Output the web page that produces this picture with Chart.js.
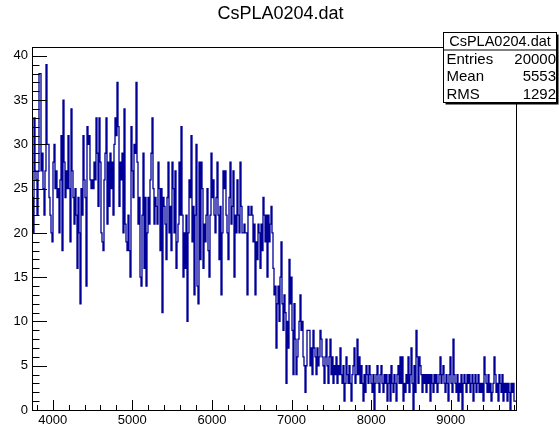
<!DOCTYPE html>
<html>
<head>
<meta charset="utf-8">
<script src="https://cdn.jsdelivr.net/npm/chart.js@4.4.1/dist/chart.umd.min.js"></script>
<style>
  html, body { margin: 0; padding: 0; background: #fff; }
  canvas { display: block; }
</style>
</head>
<body>
<canvas id="chart-hist" width="559" height="430"></canvas>
<script>
// histogram CsPLA0204.dat (one bin per pixel column)
const histName = 'CsPLA0204.dat';
const binLow = 3740;
const binWidth = 12.56;
const counts = [
  // 3740 - 4000
  27, 24, 20, 33, 27, 26, 22, 27, 38, 38, 27, 29, 25, 22, 27, 39, 30, 30, 24, 22,
  // 4000 - 4250
  20, 19, 28, 30, 25, 27, 24, 25, 20, 26, 31, 18, 35, 28, 24, 27, 25, 31, 25, 19,
  34, 27, 24, 21, 25, 22, 16, 24, 20, 12, 25, 22, 31, 26, 24, 14, 32, 30, 31, 26,
  // 4500
  25, 26, 25, 28, 26, 33, 29, 23, 33, 28, 20, 19, 18, 26, 29, 33, 21, 28, 23, 29,
  25, 28, 22, 30, 33, 31, 37, 32, 23, 28, 26, 29, 20, 34, 21, 19, 18, 22, 18, 15,
  // 5000
  32, 27, 24, 30, 29, 37, 28, 21, 24, 15, 14, 22, 29, 16, 24, 14, 20, 24, 21, 26,
  29, 33, 25, 21, 24, 23, 21, 28, 25, 18, 25, 11, 24, 23, 21, 17, 24, 28, 20, 23,
  // 5500
  18, 28, 25, 20, 27, 16, 19, 21, 28, 22, 32, 22, 15, 20, 16, 22, 10, 20, 26, 24,
  31, 19, 23, 13, 22, 30, 14, 12, 28, 17, 28, 25, 16, 21, 19, 22, 25, 18, 15, 22,
  // 6000
  29, 24, 26, 22, 20, 24, 28, 22, 17, 23, 13, 20, 27, 25, 27, 22, 20, 17, 24, 28,
  21, 23, 27, 15, 22, 20, 26, 22, 20, 28, 23, 20, 20, 21, 20, 20, 13, 23, 22, 22,
  // 6500
  23, 22, 19, 21, 13, 19, 17, 21, 20, 16, 21, 18, 24, 22, 19, 22, 15, 22, 19, 21,
  23, 20, 16, 13, 14, 7, 12, 14, 10, 15, 19, 12, 9, 13, 11, 3, 10, 7, 17, 12,
  // 7000
  15, 9, 4, 12, 8, 4, 6, 8, 10, 13, 9, 10, 6, 5, 2, 5, 9, 9, 9, 5,
  7, 4, 9, 7, 6, 4, 7, 5, 6, 9, 8, 6, 5, 3, 6, 8, 5, 3, 6, 8,
  // 7500
  4, 6, 3, 5, 4, 6, 3, 5, 4, 7, 4, 3, 5, 1, 3, 6, 4, 3, 5, 3,
  1, 4, 5, 7, 3, 4, 8, 4, 6, 3, 5, 3, 1, 4, 2, 5, 4, 3, 5, 4,
  // 8000
  3, 2, 4, 0, 3, 4, 5, 3, 2, 4, 5, 3, 2, 4, 3, 4, 1, 3, 4, 1,
  5, 3, 2, 4, 3, 1, 4, 5, 3, 6, 3, 6, 1, 3, 2, 4, 3, 6, 2, 4,
  // 8500
  7, 3, 0, 5, 2, 9, 6, 3, 6, 5, 4, 2, 4, 3, 4, 2, 4, 3, 4, 1,
  4, 3, 2, 4, 3, 4, 2, 3, 4, 6, 3, 4, 5, 3, 2, 4, 3, 1, 4, 6,
  // 9000
  3, 2, 8, 4, 3, 2, 4, 1, 3, 2, 4, 0, 3, 4, 3, 2, 4, 3, 4, 2,
  3, 4, 1, 3, 4, 2, 3, 4, 2, 3, 2, 3, 1, 6, 4, 3, 2, 4, 2, 3,
  // 9500 - 9820
  1, 2, 3, 6, 4, 2, 3, 1, 4, 3, 2, 4, 1, 3, 2, 3, 1, 3, 2, 0,
  3, 2, 3, 1,
];
const xMin = 3740;
const xMax = 9819;
const yMin = 0;
const yMax = 41;
const xTicks = [4000, 5000, 6000, 7000, 8000, 9000];
const yTicks = [0, 5, 10, 15, 20, 25, 30, 35, 40];
const xMinorStep = 200;
const yMinorStep = 1;
const statsLabels = ['Entries', 'Mean', 'RMS'];
const statsValues = ['20000', '5553', '1292'];

const FONT = '"Liberation Sans", Arial, Helvetica, sans-serif';
const LINE = '#000099';

const points = counts.map((c, i) => ({ x: binLow + i * binWidth, y: c }));
points.push({ x: binLow + counts.length * binWidth, y: counts[counts.length - 1] });

// ROOT-like frame, inward ticks, title and stats box
const rootFrame = {
  id: 'rootFrame',
  afterDraw(chart) {
    const { ctx, chartArea: a, scales } = chart;
    const xs = scales.x;
    const ys = scales.y;
    ctx.save();
    ctx.strokeStyle = '#000';
    ctx.lineWidth = 1;
    ctx.strokeRect(Math.round(a.left) + 0.5, Math.round(a.top) + 0.5,
      Math.round(a.right - a.left), Math.round(a.bottom - a.top));

    ctx.beginPath();
    for (let v = yMin; v <= yMax; v += yMinorStep) {
      const y = Math.round(ys.getPixelForValue(v)) + 0.5;
      const len = yTicks.includes(v) ? 15 : 7.5;
      ctx.moveTo(a.left, y);
      ctx.lineTo(a.left + len, y);
    }
    const start = Math.ceil(xMin / xMinorStep) * xMinorStep;
    for (let v = start; v <= xMax; v += xMinorStep) {
      const x = Math.round(xs.getPixelForValue(v)) + 0.5;
      const len = xTicks.includes(v) ? 10 : 5;
      ctx.moveTo(x, a.bottom);
      ctx.lineTo(x, a.bottom - len);
    }
    ctx.stroke();

    // title
    ctx.fillStyle = '#000';
    ctx.font = `18px ${FONT}`;
    ctx.textAlign = 'center';
    ctx.textBaseline = 'alphabetic';
    ctx.fillText(histName, chart.width / 2 + 1, 19);

    // stats box
    const bx = 443.5, by = 32.5, bw = 113, bh = 70;
    ctx.fillStyle = '#000';
    ctx.fillRect(bx + 2, by + 2, bw, bh);
    ctx.fillStyle = '#fff';
    ctx.fillRect(bx, by, bw, bh);
    ctx.strokeRect(bx, by, bw, bh);
    const rowH = bh / (statsLabels.length + 1);
    ctx.beginPath();
    ctx.moveTo(bx, by + rowH);
    ctx.lineTo(bx + bw, by + rowH);
    ctx.stroke();
    ctx.fillStyle = '#000';
    ctx.font = `14.5px ${FONT}`;
    ctx.textBaseline = 'middle';
    ctx.textAlign = 'center';
    ctx.fillText(histName, bx + bw / 2, by + rowH / 2 + 1);
    ctx.font = `15px ${FONT}`;
    statsLabels.forEach((label, i) => {
      const cy = by + rowH * (i + 1.5) + 1;
      ctx.textAlign = 'left';
      ctx.fillText(label, bx + 3, cy);
      ctx.textAlign = 'right';
      ctx.fillText(statsValues[i], bx + bw - 0.5, cy);
    });
    ctx.restore();
  },
};

const chart = new Chart(document.getElementById('chart-hist'), {
  type: 'line',
  data: {
    datasets: [{
      label: histName,
      data: points,
      stepped: 'after',
      borderColor: LINE,
      borderWidth: 1.3,
      pointRadius: 0,
      fill: false,
      tension: 0,
    }],
  },
  options: {
    responsive: false,
    animation: false,
    devicePixelRatio: 1,
    parsing: false,
    layout: { padding: { left: 0, top: 47, right: 43, bottom: 0 } },
    plugins: {
      legend: { display: false },
      tooltip: { enabled: false },
      title: { display: false },
    },
    scales: {
      x: {
        type: 'linear',
        min: xMin,
        max: xMax,
        afterBuildTicks: (s) => { s.ticks = xTicks.map((v) => ({ value: v })); },
        afterFit: (s) => { s.height = 20; },
        grid: { display: false, drawTicks: false },
        border: { display: false },
        ticks: {
          color: '#000',
          font: { family: FONT, size: 13 },
          padding: 3,
          maxRotation: 0,
          autoSkip: false,
          callback: (v) => String(v),
        },
      },
      y: {
        type: 'linear',
        min: yMin,
        max: yMax,
        afterBuildTicks: (s) => { s.ticks = yTicks.map((v) => ({ value: v })); },
        afterFit: (s) => { s.width = 32; },
        grid: { display: false, drawTicks: false },
        border: { display: false },
        ticks: {
          color: '#000',
          font: { family: FONT, size: 13 },
          padding: 4,
          autoSkip: false,
          callback: (v) => String(v),
        },
      },
    },
  },
  plugins: [rootFrame],
});
</script>
</body>
</html>
